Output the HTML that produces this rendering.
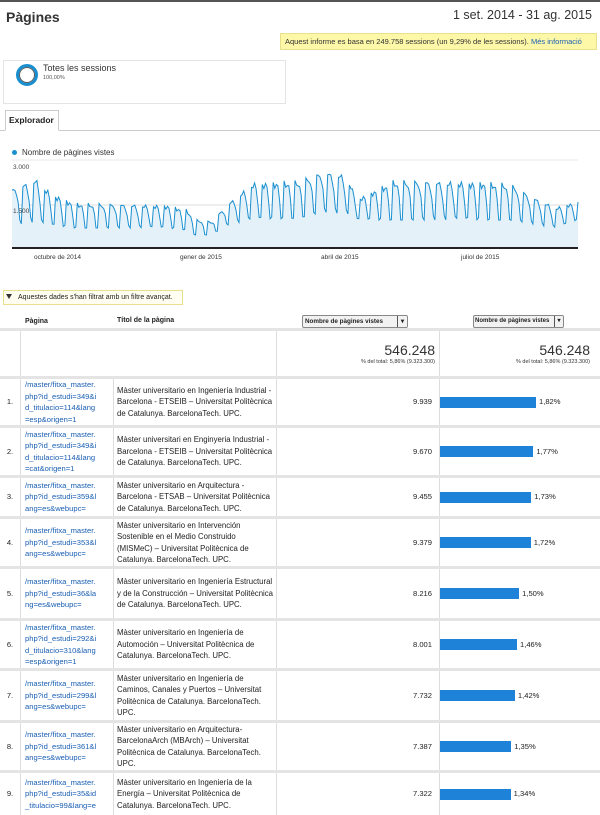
<!DOCTYPE html>
<html><head><meta charset="utf-8"><style>
*{margin:0;padding:0;box-sizing:border-box}
body{width:600px;height:811px;overflow:hidden;background:#fff;font-family:"Liberation Sans",Arial,sans-serif;color:#222;position:relative}
.a{position:absolute}
.link{color:#1a5fb4}
.row{position:absolute;left:0;width:600px;border-top:3px solid #e4e4e4}
.cell{position:absolute;top:0;bottom:0;font-size:7.6px;line-height:11.5px}
.vl{position:absolute;top:0;bottom:0;width:1px;background:#ddd}
.bar{position:absolute;height:11px;background:#1e82d8}
</style></head><body>
<div class="a" style="left:0;top:0;width:600px;height:2px;background:#555"></div>
<div class="a" style="left:6px;top:9px;font-size:14px;font-weight:bold;color:#333">Pàgines</div>
<div class="a" style="right:8px;top:8px;font-size:12.5px;color:#333">1 set. 2014 - 31 ag. 2015</div>
<div class="a" style="left:280px;top:33px;width:317px;height:17px;background:#fdf7a8;border:1px solid #e8e08a;font-size:7.5px;line-height:15px;padding-left:4px;color:#333">Aquest informe es basa en 249.758 sessions (un 9,29% de les sessions). <span class="link">Més informació</span></div>
<div class="a" style="left:3px;top:60px;width:283px;height:44px;border:1px solid #e4e4e4;background:#fff"></div>
<div class="a" style="left:16px;top:64px;width:22px;height:22px;border-radius:50%;border:3px solid #1a8fd0;box-shadow:inset 0 0 0 1px #555"></div>
<div class="a" style="left:43px;top:63px;font-size:9px;color:#333">Totes les sessions</div>
<div class="a" style="left:43px;top:75px;font-size:5.5px;color:#555">100,00%</div>
<div class="a" style="left:0;top:130px;width:600px;height:1px;background:#ccc"></div>
<div class="a" style="left:5px;top:110px;width:54px;height:21px;border:1px solid #ccc;border-bottom:1px solid #fff;background:#fff;font-size:8.5px;font-weight:bold;line-height:19px;padding-left:3px">Explorador</div>
<div class="a" style="left:12px;top:150px;width:5px;height:5px;border-radius:50%;background:#1a8fd0"></div>
<div class="a" style="left:22px;top:148px;font-size:8px;color:#333">Nombre de pàgines vistes</div>
<svg class="a" style="left:0;top:158px" width="600" height="110" id="ch">
<line x1="12" y1="2" x2="578" y2="2" stroke="#e8e8e8"/>
<line x1="12" y1="47" x2="578" y2="47" stroke="#ddd"/>
<text x="13" y="11" font-size="6.5" fill="#444" font-family="Liberation Sans">3.000</text>
<polygon id="ar" fill="#e5f1f9"/>
<polyline id="ln" fill="none" stroke="#1a8fd0" stroke-width="1"/>
<text x="13" y="55" font-size="6.5" fill="#444" font-family="Liberation Sans">1.500</text>
<rect x="12" y="89" width="566" height="2" fill="#222"/>
<text x="34" y="101" font-size="6.5" fill="#333" font-family="Liberation Sans">octubre de 2014</text>
<text x="180" y="101" font-size="6.5" fill="#333" font-family="Liberation Sans">gener de 2015</text>
<text x="321" y="101" font-size="6.5" fill="#333" font-family="Liberation Sans">abril de 2015</text>
<text x="461" y="101" font-size="6.5" fill="#333" font-family="Liberation Sans">juliol de 2015</text>
</svg>
<script>
(function(){
var env=[[0,32,67],[15,22,64],[25,36,68],[40,46,70],[100,48,70],[112,52,72],[118,62,77],[128,64,77],[140,45,66],[155,26,62],[185,24,60],[200,15,54],[215,18,56],[222,42,62],[232,34,62],[245,24,62],[300,25,62],[320,27,62],[335,40,66],[350,50,70],[364,44,62]];
function iv(d,k){for(var i=0;i<env.length-1;i++){if(d<=env[i+1][0]){var t=(d-env[i][0])/(env[i+1][0]-env[i][0]);return env[i][k]+(env[i+1][k]-env[i][k])*t}}return env[env.length-1][k]}
var pts=[],w=[1,0.92,0.96,0.85,0.55,0.05,0.0];
for(var d=0;d<365;d++){var p=iv(d,1),l=iv(d,2);var f=w[d%7]+0.07*Math.sin(d*1.7);f=Math.max(0,Math.min(1.05,f));var y=l+(p-l)*f;
var x=12+d*566/364;pts.push(x.toFixed(1)+","+y.toFixed(1))}
document.getElementById("ln").setAttribute("points",pts.join(" "));
document.getElementById("ar").setAttribute("points","12,89 "+pts.join(" ")+" 578,89");
})();
</script>
<div class="a" style="left:3px;top:290px;width:180px;height:15px;border:1px solid #e8e08a;background:#fffef0;font-size:7px;line-height:13px;padding-left:14px">Aquestes dades s'han filtrat amb un filtre avançat.</div>
<div class="a" style="left:6px;top:294px;width:0;height:0;border-left:3px solid transparent;border-right:3px solid transparent;border-top:5px solid #333"></div>
<div class="a" style="left:25px;top:318px;font-size:7px;font-weight:bold">Pàgina</div>
<div class="a" style="left:117px;top:317px;font-size:7px;font-weight:bold">Títol de la pàgina</div>
<div class="a" style="left:302px;top:315px;width:106px;height:13px;border:1px solid #888;border-radius:2px;background:#f2f2f2;font-size:6.3px;font-weight:bold;line-height:11px;padding-left:2px;white-space:nowrap;overflow:hidden">Nombre de pàgines vistes<span style="position:absolute;right:0;top:0;width:10px;height:11px;border-left:1px solid #555;text-align:center;background:#f2f2f2">▾</span></div>
<div class="a" style="left:473px;top:315px;width:91px;height:13px;border:1px solid #888;border-radius:2px;background:#f2f2f2;font-size:6px;font-weight:bold;line-height:11px;padding-left:1px;white-space:nowrap;overflow:hidden">Nombre de pàgines vistes<span style="position:absolute;right:0;top:0;width:9px;height:11px;border-left:1px solid #555;text-align:center;background:#f2f2f2">▾</span></div>
<div class="row" style="top:328px;height:48px">
<div class="vl" style="left:20px"></div><div class="vl" style="left:276px"></div><div class="vl" style="left:439px"></div>
<div class="a" style="right:165px;top:11px;font-size:14px;color:#333">546.248</div>
<div class="a" style="right:165px;top:28px;font-size:5.5px;color:#333">% del total: 5,86% (9.323.300)</div>
<div class="a" style="right:10px;top:11px;font-size:14px;color:#333">546.248</div>
<div class="a" style="right:10px;top:28px;font-size:5.5px;color:#333">% del total: 5,86% (9.323.300)</div>
</div>
<div id="rows"></div>
<script>
var R=[[376,49,"/master/fitxa_master.<br>php?id_estudi=349&amp;i<br>d_titulacio=114&amp;lang<br>=esp&amp;origen=1","Màster universitario en Ingeniería Industrial - Barcelona - ETSEIB – Universitat Politècnica de Catalunya. BarcelonaTech. UPC.","9.939","1,82%",1.82],
[425,50,"/master/fitxa_master.<br>php?id_estudi=349&amp;i<br>d_titulacio=114&amp;lang<br>=cat&amp;origen=1","Màster universitari en Enginyeria Industrial - Barcelona - ETSEIB – Universitat Politècnica de Catalunya. BarcelonaTech. UPC.","9.670","1,77%",1.77],
[475,41,"/master/fitxa_master.<br>php?id_estudi=359&amp;l<br>ang=es&amp;webupc=","Màster universitario en Arquitectura - Barcelona - ETSAB – Universitat Politècnica de Catalunya. BarcelonaTech. UPC.","9.455","1,73%",1.73],
[516,50,"/master/fitxa_master.<br>php?id_estudi=353&amp;l<br>ang=es&amp;webupc=","Màster universitario en Intervención Sostenible en el Medio Construido (MISMeC) – Universitat Politècnica de Catalunya. BarcelonaTech. UPC.","9.379","1,72%",1.72],
[566,52,"/master/fitxa_master.<br>php?id_estudi=36&amp;la<br>ng=es&amp;webupc=","Màster universitario en Ingeniería Estructural y de la Construcción – Universitat Politècnica de Catalunya. BarcelonaTech. UPC.","8.216","1,50%",1.50],
[618,50,"/master/fitxa_master.<br>php?id_estudi=292&amp;i<br>d_titulacio=310&amp;lang<br>=esp&amp;origen=1","Màster universitario en Ingeniería de Automoción – Universitat Politècnica de Catalunya. BarcelonaTech. UPC.","8.001","1,46%",1.46],
[668,52,"/master/fitxa_master.<br>php?id_estudi=299&amp;l<br>ang=es&amp;webupc=","Màster universitario en Ingeniería de Caminos, Canales y Puertos – Universitat Politècnica de Catalunya. BarcelonaTech. UPC.","7.732","1,42%",1.42],
[720,50,"/master/fitxa_master.<br>php?id_estudi=361&amp;l<br>ang=es&amp;webupc=","Màster universitario en Arquitectura-BarcelonaArch (MBArch) – Universitat Politècnica de Catalunya. BarcelonaTech. UPC.","7.387","1,35%",1.35],
[770,45,"/master/fitxa_master.<br>php?id_estudi=35&amp;id<br>_titulacio=99&amp;lang=e","Màster universitario en Ingeniería de la Energía – Universitat Politècnica de Catalunya. BarcelonaTech. UPC.","7.322","1,34%",1.34]];
var h="";
R.forEach(function(r,i){
h+='<div class="row" style="top:'+r[0]+'px;height:'+r[1]+'px">'+
'<div class="vl" style="left:20px"></div><div class="vl" style="left:113px"></div><div class="vl" style="left:276px"></div><div class="vl" style="left:439px"></div>'+
'<div class="cell" style="left:0;width:20px;display:flex;align-items:center;justify-content:center">'+(i+1)+'.</div>'+
'<div class="cell link" style="left:25px;width:86px;display:flex;align-items:center">'+'<div>'+r[2]+'</div></div>'+
'<div class="cell" style="left:117px;width:156px;font-size:7.8px;display:flex;align-items:center"><div>'+r[3]+'</div></div>'+
'<div class="cell" style="right:168px;display:flex;align-items:center">'+r[4]+'</div>'+
'<div class="bar" style="left:440px;top:'+(r[1]/2-7)+'px;width:'+(r[6]/1.82*96)+'px"></div>'+
'<div class="cell" style="left:'+(443+r[6]/1.82*96)+'px;display:flex;align-items:center">'+r[5]+'</div></div>';
});
document.getElementById("rows").innerHTML=h;
</script>
</body></html>
